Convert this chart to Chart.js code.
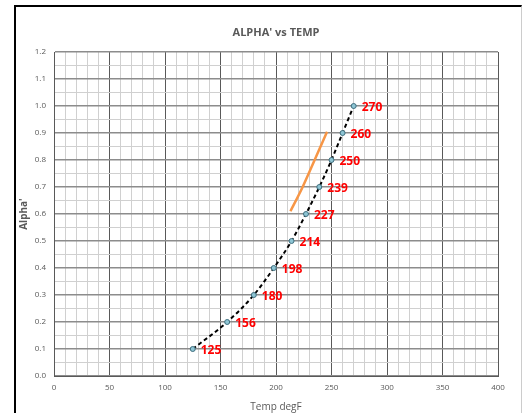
<!DOCTYPE html>
<html>
<head>
<meta charset="utf-8">
<script src="https://cdn.jsdelivr.net/npm/chart.js@4"></script>
<style>
html,body{margin:0;padding:0;background:#fff;overflow:hidden;}
#wrap{position:relative;width:523px;height:413px;}
#frame{position:absolute;left:14px;top:5px;width:505px;height:420px;border-left:2px solid #000;border-top:2px solid #000;border-right:1px solid #ccc;}
#box{position:absolute;left:0;top:0;width:523px;height:413px;}
</style>
</head>
<body>
<div id="wrap">
<div id="frame"></div>
<div id="box"><canvas id="c"></canvas></div>
</div>
<script>
const chartTitle = "ALPHA' vs TEMP";
const temps = [125, 156, 180, 198, 214, 227, 239, 250, 260, 270];
const alphas = [0.1, 0.2, 0.3, 0.4, 0.5, 0.6, 0.7, 0.8, 0.9, 1.0];
const pointLabels = ['125', '156', '180', '198', '214', '227', '239', '250', '260', '270'];
const orangeX = [213, 224, 246];
const orangeY = [0.61, 0.70, 0.905];
const xTickMin = 0, xTickMax = 400;
const yTickMin = 0, yTickMax = 1.2;

const mainData = temps.map((t, i) => ({x: t, y: alphas[i]}));
const orangeData = orangeX.map((t, i) => ({x: t, y: orangeY[i]}));

const labelPlugin = {
  id: 'ptLabels',
  afterDatasetsDraw(chart) {
    const ctx = chart.ctx;
    const xs = chart.scales.x, ys = chart.scales.y;
    const ca = chart.chartArea;
    ctx.save();
    ctx.fillStyle = '#ff0000';
    ctx.font = 'bold 12px "Open Sans", "Liberation Sans", sans-serif';
    ctx.textAlign = 'left';
    ctx.textBaseline = 'middle';
    temps.forEach((t, i) => {
      const px = xs.getPixelForValue(t);
      const py = ys.getPixelForValue(alphas[i]);
      ctx.fillText(pointLabels[i], px + 8, py + 2);
    });
    ctx.fillStyle = '#595959';
    ctx.font = 'bold 11px "Open Sans", "Liberation Sans", sans-serif';
    ctx.textAlign = 'center';
    ctx.fillText(chartTitle, (ca.left + ca.right) / 2, ca.top - 19);
    ctx.restore();
  }
};

new Chart(document.getElementById('c'), {
  type: 'scatter',
  data: {
    datasets: [
      {
        data: orangeData,
        showLine: true,
        borderColor: '#f79646',
        borderWidth: 2.5,
        pointRadius: 0,
        tension: 0.3,
        fill: false
      },
      {
        data: mainData,
        showLine: true,
        borderColor: '#000000',
        borderWidth: 2,
        borderDash: [4, 3],
        tension: 0.4,
        cubicInterpolationMode: 'monotone',
        pointRadius: 2.5,
        pointBackgroundColor: '#8ec5d4',
        pointBorderColor: '#3f6f7f',
        pointBorderWidth: 1,
        fill: false
      }
    ]
  },
  options: {
    responsive: true,
    maintainAspectRatio: false,
    animation: false,
    layout: {padding: {left: 18, right: 25, top: 52, bottom: 0}},
    plugins: {
      legend: {display: false},
      tooltip: {enabled: false},
      title: {display: false}
    },
    scales: {
      x: {
        type: 'linear',
        min: xTickMin, max: xTickMax,
        afterFit(s) { s.height = 37; },
        border: {display: true, color: '#595959', width: 1},
        grid: {
          drawTicks: false,
          color: ctx => (ctx.tick && Math.round(ctx.tick.value) % 50 === 0) ? '#595959' : '#d0d0d0',
          lineWidth: 1
        },
        ticks: {
          stepSize: 10,
          autoSkip: false,
          maxRotation: 0,
          padding: 7,
          color: '#595959',
          font: {family: '"Open Sans", "Liberation Sans", sans-serif', size: 8},
          callback: v => (Math.round(v) % 50 === 0 ? String(Math.round(v)) : '')
        },
        title: {
          display: true,
          text: 'Temp degF',
          color: '#595959',
          font: {family: '"Open Sans", "Liberation Sans", sans-serif', size: 10},
          padding: {top: 2, bottom: 0}
        }
      },
      y: {
        type: 'linear',
        min: yTickMin, max: yTickMax,
        afterFit(s) { s.width = 36; },
        border: {display: true, color: '#595959', width: 1},
        grid: {
          drawTicks: false,
          color: ctx => (ctx.tick && Math.round(ctx.tick.value * 100) % 10 === 0) ? '#8c8c8c' : '#d0d0d0',
          lineWidth: ctx => (ctx.tick && Math.round(ctx.tick.value * 100) % 10 === 0) ? 1.5 : 1
        },
        ticks: {
          stepSize: 0.05,
          autoSkip: false,
          padding: 8,
          color: '#595959',
          font: {family: '"Open Sans", "Liberation Sans", sans-serif', size: 8},
          callback: v => (Math.round(v * 100) % 10 === 0 ? v.toFixed(1) : '')
        },
        title: {
          display: true,
          text: "Alpha'",
          color: '#595959',
          font: {family: '"Open Sans", "Liberation Sans", sans-serif', size: 10, weight: 'bold'},
          padding: {top: 0, bottom: 2}
        }
      }
    }
  },
  plugins: [labelPlugin]
});
</script>
</body>
</html>
